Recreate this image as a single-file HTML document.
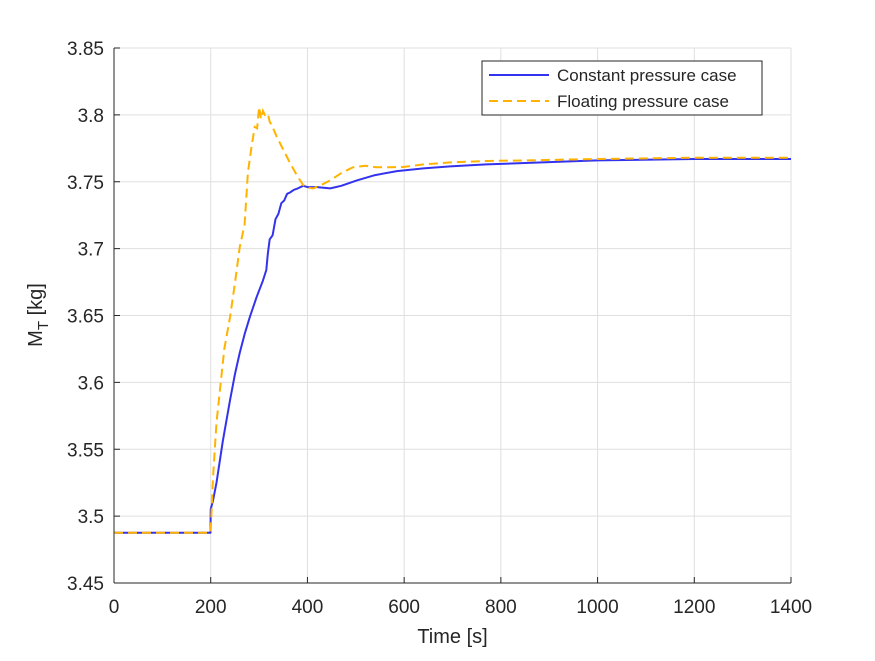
<!DOCTYPE html>
<html><head><meta charset="utf-8"><style>
body{margin:0;background:#fff;}
svg text{font-family:"Liberation Sans",sans-serif;fill:#262626;}
</style></head><body>
<svg id="chart" width="875" height="656" xmlns="http://www.w3.org/2000/svg">
<rect width="875" height="656" fill="#fff"/>
<g id="grid"></g>
<g id="series"></g>
<line x1="114" y1="48" x2="114" y2="583" stroke="#262626" stroke-width="1"/>
<line x1="114" y1="583" x2="791" y2="583" stroke="#262626" stroke-width="1"/>
<g id="ticks"></g>
<text x="452.5" y="643" font-size="20" text-anchor="middle">Time [s]</text>
<text transform="translate(42,315) rotate(-90)" font-size="20" text-anchor="middle">M<tspan font-size="15" dy="6">T</tspan><tspan dy="-6"> [kg]</tspan></text>
<g>
<rect x="482" y="61" width="280" height="54" fill="#fff" stroke="#262626" stroke-width="1"/>
<line x1="489" y1="75" x2="549" y2="75" stroke="#3333ee" stroke-width="2"/>
<text x="557" y="81" font-size="17">Constant pressure case</text>
<line x1="489" y1="101" x2="549" y2="101" stroke="#ffb300" stroke-width="2" stroke-dasharray="9,5"/>
<text x="557" y="107" font-size="17">Floating pressure case</text>
</g>
</svg>
<script>
const xTicks=[0,200,400,600,800,1000,1200,1400];
const yTicks=[3.45,3.5,3.55,3.6,3.65,3.7,3.75,3.8,3.85];
const yTickLabels=["3.45","3.5","3.55","3.6","3.65","3.7","3.75","3.8","3.85"];
const blueT=[0,199.5,200,205,212,225,240,250,260,270,281,295,308,315,318,322,328,334,340,346,352,358,364,372,380,391,400,420,447,470,502,540,585,640,695,770,850,1000,1200,1400];
const blueY=[3.4875,3.4875,3.505,3.512,3.525,3.556,3.587,3.606,3.622,3.636,3.649,3.664,3.676,3.684,3.696,3.707,3.710,3.722,3.726,3.734,3.736,3.741,3.742,3.744,3.745,3.747,3.746,3.746,3.745,3.747,3.751,3.755,3.758,3.760,3.7615,3.763,3.764,3.766,3.767,3.767];
const yelT=[0,199.5,201,205,212,219,228,240,250,260,270,277,284,291,296,300,304,308,312,318,322,328,336,350,364,378,391,402,412,425,447,470,494,520,542,570,598,640,695,770,850,1000,1200,1400];
const yelY=[3.4875,3.4875,3.497,3.53,3.57,3.594,3.625,3.649,3.674,3.701,3.718,3.757,3.775,3.791,3.790,3.806,3.797,3.803,3.800,3.801,3.795,3.791,3.784,3.774,3.764,3.755,3.7476,3.7455,3.745,3.747,3.751,3.7565,3.7608,3.762,3.7608,3.7608,3.761,3.763,3.7645,3.7655,3.766,3.767,3.768,3.768];
const X0=114,X1=791,Y0=583,Y1=48;
function sx(t){return X0+(t-0)/(1400-0)*(X1-X0);}
function sy(v){return Y0-(v-3.45)/(3.85-3.45)*(Y0-Y1);}
const NS="http://www.w3.org/2000/svg";
const grid=document.getElementById('grid'),ticks=document.getElementById('ticks'),series=document.getElementById('series');
function mk(tag,attrs,parent){const e=document.createElementNS(NS,tag);for(const k in attrs)e.setAttribute(k,attrs[k]);parent.appendChild(e);return e;}
xTicks.forEach(t=>{
  const g=mk('line',{x1:sx(t),x2:sx(t),y1:Y1,y2:Y0,stroke:'#dfdfdf','stroke-width':1},grid);
  
  
  const tk=mk('line',{x1:sx(t),x2:sx(t),y1:Y0,y2:Y0-6,stroke:'#262626'},ticks);
  
  
  const l=mk('text',{x:sx(t),y:Y0+30,'font-size':19,'text-anchor':'middle'},ticks);
  l.textContent=t;
  
  
});
yTicks.forEach((v,i)=>{
  const g=mk('line',{x1:X0,x2:X1,y1:sy(v),y2:sy(v),stroke:'#dfdfdf','stroke-width':1},grid);
  
  
  const tk=mk('line',{x1:X0,x2:X0+6,y1:sy(v),y2:sy(v),stroke:'#262626'},ticks);
  
  
  const l=mk('text',{x:X0-10,y:sy(v)+7,'font-size':19,'text-anchor':'end'},ticks);
  l.textContent=yTickLabels[i];
  
  
});
function path(T,Y){return T.map((t,i)=>(i?'L':'M')+sx(t).toFixed(1)+','+sy(Y[i]).toFixed(1)).join(' ');}
const pb=mk('path',{d:path(blueT,blueY),fill:'none',stroke:'#3333ee','stroke-width':2,'stroke-linejoin':'round'},series);


const py=mk('path',{d:path(yelT,yelY),fill:'none',stroke:'#ffb300','stroke-width':2,'stroke-dasharray':'9,5'},series);


</script>
</body></html>
